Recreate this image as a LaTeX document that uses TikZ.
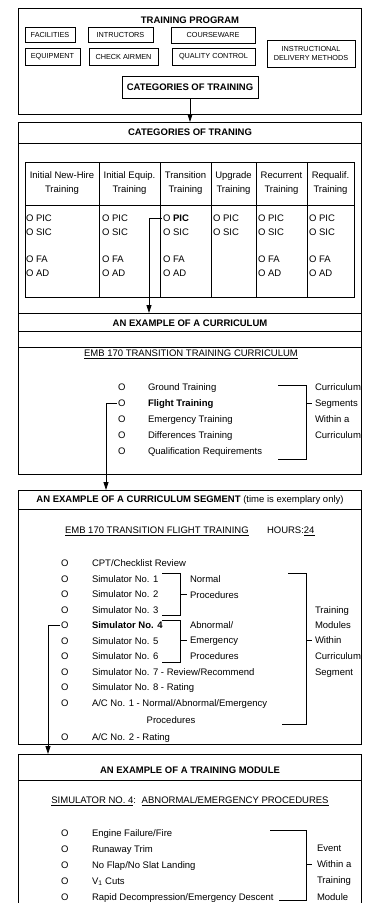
\documentclass[tikz,border=0pt]{standalone}
\usepackage{fontspec}
\setmainfont{Liberation Sans}
\usetikzlibrary{arrows.meta}
\tikzset{
  base/.style={font=\fontsize{9.5}{14}\selectfont, inner sep=0pt, outer sep=0mm},
  frame/.style={rectangle, draw=black, line width=0.9pt, base},
  tag/.style={rectangle, draw=black, line width=0.7pt, align=center, inner sep=1pt, font=\fontsize{7.3}{9}\selectfont},
  catbox/.style={rectangle, draw=black, line width=0.9pt, inner sep=1pt, font=\fontsize{9.5}{11}\selectfont\bfseries},
  head/.style={base, anchor=base, font=\fontsize{9.5}{11}\selectfont\bfseries},
  item/.style={base, anchor=base west},
  cell/.style={base, align=center},
  rule/.style={line width=0.8pt},
  arrow/.style={-{Triangle[length=8pt,width=5pt]}, line width=0.8pt, shorten <=1pt}
}

\begin{document}
\begin{tikzpicture}[x=1pt, y=-1pt, line width=0.8pt]
  \useasboundingbox (0,0) rectangle (365,903);

  % training program
  \node[frame, minimum width=343pt, minimum height=106pt] (progframe) at (189.5,61) {};
  \node[head] (progtitle) at (190,23.5) {TRAINING PROGRAM};
  \node[tag, minimum width=50pt, minimum height=15pt] (facilities) at (50,34.5) {FACILITIES};
  \node[tag, minimum width=65pt, minimum height=15pt] (intructors) at (120.5,34.5) {INTRUCTORS};
  \node[tag, minimum width=84pt, minimum height=16pt] (courseware) at (213,35) {COURSEWARE};
  \node[tag, minimum width=55pt, minimum height=17pt] (equipment) at (52.5,56.5) {EQUIPMENT};
  \node[tag, minimum width=69pt, minimum height=17pt] (checkairmen) at (123.5,56.5) {CHECK AIRMEN};
  \node[tag, minimum width=83pt, minimum height=17pt] (quality) at (213.5,56.5) {QUALITY CONTROL};
  \node[tag, minimum width=88pt, minimum height=27pt] (delivery) at (311,53.5) {INSTRUCTIONAL\\DELIVERY METHODS};
  \node[catbox, minimum width=136pt, minimum height=22pt] (cattrain) at (190,87) {CATEGORIES OF TRAINING};

  % categories of training
  \node[frame, minimum width=343pt, minimum height=191pt] (catframe) at (189.5,217.5) {};
  \node[head] (cattitle) at (190,135.5) {CATEGORIES OF TRANING};
  \draw[rule] (18,143) -- (361,143);
  \draw[rule] (25,162) rectangle (354,297);
  \draw[rule] (25,205) -- (354,205);
  \draw[rule] (99,162) -- (99,297);
  \draw[rule] (160,162) -- (160,297);
  \draw[rule] (211,162) -- (211,297);
  \draw[rule] (256,162) -- (256,297);
  \draw[rule] (307,162) -- (307,297);
  \node[cell] (newhire) at (62,183) {Initial New-Hire\\Training};
  \node[cell] (initequip) at (129.5,183) {Initial Equip.\\Training};
  \node[cell] (transition) at (185.5,183) {Transition\\Training};
  \node[cell] (upgrade) at (233.5,183) {Upgrade\\Training};
  \node[cell] (recurrent) at (281.5,183) {Recurrent\\Training};
  \node[cell] (requalif) at (330.5,183) {Requalif.\\Training};

  \node[item] (nhpic) at (26,221.5) {O PIC};
  \node[item] (nhsic) at (26,235.5) {O SIC};
  \node[item] (nhfa) at (26,262.5) {O FA};
  \node[item] (nhad) at (26,276.5) {O AD};
  \node[item] (iepic) at (102,221.5) {O PIC};
  \node[item] (iesic) at (102,235.5) {O SIC};
  \node[item] (iefa) at (102,262.5) {O FA};
  \node[item] (iead) at (102,276.5) {O AD};
  \node[item] (trpic) at (163,221.5) {O \textbf{PIC}};
  \node[item] (trsic) at (163,235.5) {O SIC};
  \node[item] (trfa) at (163,262.5) {O FA};
  \node[item] (trad) at (163,276.5) {O AD};
  \node[item] (uppic) at (213,221.5) {O PIC};
  \node[item] (upsic) at (213,235.5) {O SIC};
  \node[item] (rcpic) at (258,221.5) {O PIC};
  \node[item] (rcsic) at (258,235.5) {O SIC};
  \node[item] (rcfa) at (258,262.5) {O FA};
  \node[item] (rcad) at (258,276.5) {O AD};
  \node[item] (rqpic) at (309,221.5) {O PIC};
  \node[item] (rqsic) at (309,235.5) {O SIC};
  \node[item] (rqfa) at (309,262.5) {O FA};
  \node[item] (rqad) at (309,276.5) {O AD};

  % example of a curriculum
  \node[frame, minimum width=343pt, minimum height=161pt] (curframe) at (189.5,393.5) {};
  \node[head] (curtitle) at (190,326) {AN EXAMPLE OF A CURRICULUM};
  \draw[rule] (18,331) -- (361,331);
  \draw[rule] (18,347) -- (361,347);
  \node[base, anchor=base] (cursub) at (191,356.5) {\underline{EMB 170 TRANSITION TRAINING CURRICULUM}};
  \node[item] (groundo) at (118,390.5) {O};
  \node[item] (ground) at (148,390.5) {Ground Training};
  \node[item] (flighto) at (118,406.5) {O};
  \node[item] (flight) at (148,406.5) {\textbf{Flight Training}};
  \node[item] (emergo) at (118,422.5) {O};
  \node[item] (emerg) at (148,422.5) {Emergency Training};
  \node[item] (diffo) at (118,438.5) {O};
  \node[item] (diff) at (148,438.5) {Differences Training};
  \node[item] (qualo) at (118,454.5) {O};
  \node[item] (qual) at (148,454.5) {Qualification Requirements};
  \draw (278,385) -- (306,385) -- (306,459) -- (278,459);
  \draw (306,403) -- (312,403);
  \node[item] (seglab1) at (315,390.5) {Curriculum};
  \node[item] (seglab2) at (315,406.5) {Segments};
  \node[item] (seglab3) at (315,422.5) {Within a};
  \node[item] (seglab4) at (315,438.5) {Curriculum};

  % example of a curriculum segment
  \node[frame, minimum width=343pt, minimum height=254pt] (segframe) at (189.5,617) {};
  \node[base, anchor=base] (segtitle) at (190,502.5) {\textbf{AN EXAMPLE OF A CURRICULUM SEGMENT} (time is exemplary only)};
  \draw[rule] (18,509) -- (361,509);
  \node[item] (segsub) at (65,533.5) {\underline{EMB 170 TRANSITION FLIGHT TRAINING}};
  \node[item] (hours) at (267,533.5) {HOURS:\underline{24}};
  \node[item] (cpto) at (61,566.5) {O};
  \node[item] (cpt) at (92,566.5) {CPT/Checklist Review};
  \node[item] (sim1o) at (61,582) {O};
  \node[item] (sim1) at (92,582) {Simulator No. 1};
  \node[item] (sim2o) at (61,597.5) {O};
  \node[item] (sim2) at (92,597.5) {Simulator No. 2};
  \node[item] (sim3o) at (61,613) {O};
  \node[item] (sim3) at (92,613) {Simulator No. 3};
  \node[item] (sim4o) at (61,628.5) {O};
  \node[item] (sim4) at (92,628.5) {\textbf{Simulator No. 4}};
  \node[item] (sim5o) at (61,644) {O};
  \node[item] (sim5) at (92,644) {Simulator No. 5};
  \node[item] (sim6o) at (61,659.5) {O};
  \node[item] (sim6) at (92,659.5) {Simulator No. 6};
  \node[item] (sim7o) at (61,675) {O};
  \node[item] (sim7) at (92,675) {Simulator No. 7 - Review/Recommend};
  \node[item] (sim8o) at (61,690.5) {O};
  \node[item] (sim8) at (92,690.5) {Simulator No. 8 - Rating};
  \node[item] (ac1o) at (61,706) {O};
  \node[item] (ac1) at (92,706) {A/C No. 1 - Normal/Abnormal/Emergency};
  \node[base, anchor=base] (ac1b) at (171,723.5) {Procedures};
  \node[item] (ac2o) at (61,740) {O};
  \node[item] (ac2) at (92,740) {A/C No. 2 - Rating};
  \draw (162,573) -- (180,573) -- (180,615) -- (162,615);
  \draw (180,594) -- (187,594);
  \node[item] (normlab1) at (190,582.5) {Normal};
  \node[item] (normlab2) at (190,598.5) {Procedures};
  \draw (162,620) -- (180,620) -- (180,662) -- (162,662);
  \draw (180,640) -- (187,640);
  \node[item] (abnlab1) at (190,628.5) {Abnormal/};
  \node[item] (abnlab2) at (190,643.5) {Emergency};
  \node[item] (abnlab3) at (190,659.5) {Procedures};
  \draw (288,573) -- (306,573) -- (306,724) -- (282,724);
  \draw (306,640) -- (312,640);
  \node[item] (modlab1) at (315,613.5) {Training};
  \node[item] (modlab2) at (315,628.5) {Modules};
  \node[item] (modlab3) at (315,643.5) {Within};
  \node[item] (modlab4) at (315,659.5) {Curriculum};
  \node[item] (modlab5) at (315,675.5) {Segment};

  % example of a training module
  \node[frame, minimum width=343pt, minimum height=170pt] (modframe) at (189.5,839) {};
  \node[head] (modtitle) at (190,773.5) {AN EXAMPLE OF A TRAINING MODULE};
  \draw[rule] (18,780) -- (361,780);
  \node[base, anchor=base] (modsub) at (190,803.5) {\underline{SIMULATOR NO. 4}:\hspace{0.6em}\underline{ABNORMAL/EMERGENCY PROCEDURES}};
  \node[item] (engo) at (61,836.5) {O};
  \node[item] (eng) at (92,836.5) {Engine Failure/Fire};
  \node[item] (trimo) at (61,852) {O};
  \node[item] (trim) at (92,852) {Runaway Trim};
  \node[item] (flapo) at (61,868) {O};
  \node[item] (flap) at (92,868) {No Flap/No Slat Landing};
  \node[item] (cutso) at (61,884) {O};
  \node[item] (cuts) at (92,884) {V\textsubscript{1} Cuts};
  \node[item] (decompo) at (61,900.5) {O};
  \node[item] (decomp) at (92,900.5) {Rapid Decompression/Emergency Descent};
  \draw (270,830) -- (306,830) -- (306,900) -- (279,900);
  \draw (306,864) -- (312,864);
  \node[item] (evlab1) at (317,851.5) {Event};
  \node[item] (evlab2) at (317,867.5) {Within a};
  \node[item] (evlab3) at (317,883.5) {Training};
  \node[item] (evlab4) at (317,900.5) {Module};

  \coordinate (drop1) at (149,218);
  \coordinate (drop2) at (106,403);
  \coordinate (drop3) at (48,625);
  \draw[arrow] (cattrain.south) -- (cattrain.south |- catframe.north);
  \draw[arrow] (trpic.west) -| (drop1 |- curframe.north);
  \draw[arrow] (flighto.west) -| (drop2 |- segframe.north);
  \draw[arrow] (sim4o.west) -| (drop3 |- modframe.north);
\end{tikzpicture}
\end{document}
